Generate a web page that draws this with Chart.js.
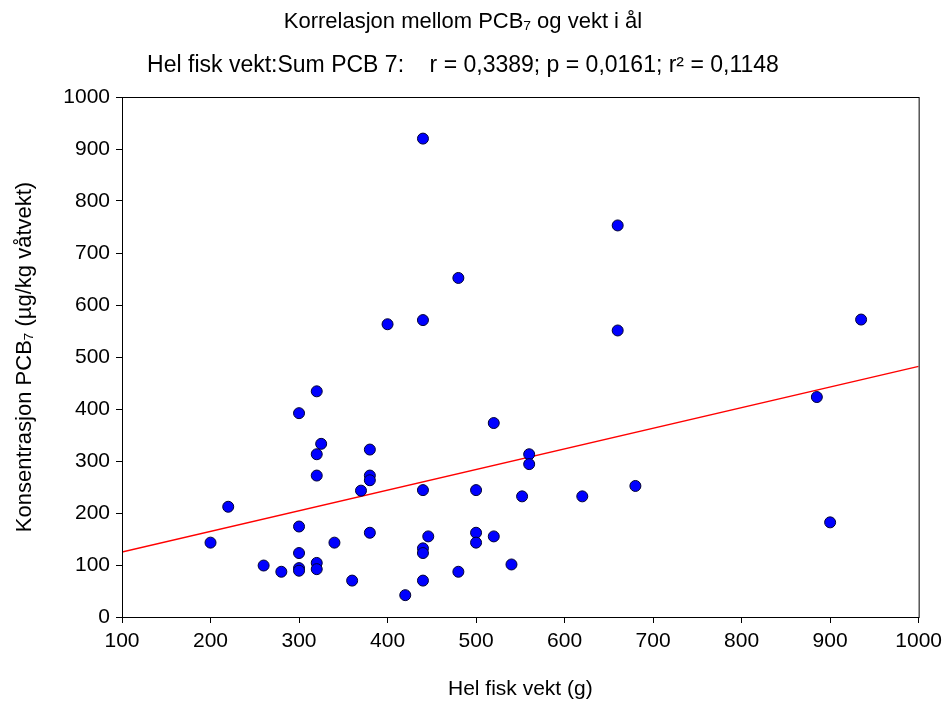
<!DOCTYPE html>
<html>
<head>
<meta charset="utf-8">
<script src="https://cdn.jsdelivr.net/npm/chart.js@4"></script>
<style>
  html, body { margin: 0; padding: 0; background: #fff; }
  #wrap { width: 948px; height: 702px; }
</style>
</head>
<body>
<div id="wrap"><canvas id="chart" width="948" height="702"></canvas></div>
<script>
// fish weight (g) and PCB7 concentration
const weight = [200, 220, 260, 280, 300, 300, 300, 300, 300, 320, 320, 325, 320, 320, 320, 340, 360, 370, 380, 380,
                380, 380, 400, 440, 440, 440, 440, 440, 440, 446, 420, 480, 480, 500, 500, 500, 520, 520, 540, 552,
                560, 560, 620, 660, 660, 680, 885, 900, 935];
const pcb = [143, 212, 99, 87, 392, 174, 123, 94, 89, 434, 313, 333, 272, 104, 92, 143, 70, 243, 322, 272,
             263, 162, 563, 920, 571, 244, 132, 123, 70, 155, 42, 652, 87, 244, 162, 143, 373, 155, 101, 232,
             313, 294, 232, 753, 551, 252, 423, 182, 572];

// regression line end points
const fitX = [100, 1000];
const fitY = [125, 482];

const FONT = "'Liberation Sans', Arial, sans-serif";

const points = weight.map((w, i) => ({ x: w, y: pcb[i] }));
const fit = fitX.map((x, i) => ({ x: x, y: fitY[i] }));

// box round the plot area
const frame = {
    id: 'frame',
    afterDraw(chart) {
        const a = chart.chartArea;
        const ctx = chart.ctx;
        ctx.save();
        ctx.strokeStyle = '#000';
        ctx.lineWidth = 1;
        ctx.strokeRect(a.left + 0.5, a.top + 0.5, a.right - a.left, a.bottom - a.top);
        ctx.restore();
    }
};

new Chart(document.getElementById('chart').getContext('2d'), {
    type: 'scatter',
    data: {
        datasets: [{
            label: 'fit',
            data: fit,
            type: 'line',
            showLine: true,
            borderColor: '#ff0000',
            borderWidth: 1.5,
            pointRadius: 0,
            fill: false,
            order: 2
        }, {
            label: 'Sum PCB 7',
            data: points,
            backgroundColor: '#0000ff',
            borderColor: '#000033',
            borderWidth: 1,
            pointRadius: 5.5,
            order: 1
        }]
    },
    options: {
        responsive: false,
        animation: false,
        layout: { padding: { left: 0, right: 22, top: 0, bottom: 0 } },
        plugins: {
            legend: { display: false },
            tooltip: { enabled: false },
            title: {
                display: true,
                text: 'Korrelasjon mellom PCB₇ og vekt i ål',
                color: '#000',
                font: { family: FONT, size: 22, weight: 'normal' },
                padding: { top: 9, bottom: 0 }
            },
            subtitle: {
                display: true,
                text: 'Hel fisk vekt:Sum PCB 7:    r = 0,3389; p = 0,0161; r² = 0,1148',
                color: '#000',
                font: { family: FONT, size: 23, weight: 'normal' },
                padding: { top: 16, bottom: 18 }
            }
        },
        scales: {
            x: {
                type: 'linear',
                min: 100,
                max: 1000,
                ticks: {
                    stepSize: 100,
                    color: '#000',
                    font: { family: FONT, size: 21 },
                    padding: 6,
                    maxRotation: 0,
                    callback: v => String(v)
                },
                grid: { drawOnChartArea: false, drawTicks: true, tickLength: 6, color: '#000' },
                border: { display: true, color: '#000' },
                title: {
                    display: true,
                    text: 'Hel fisk vekt (g)',
                    color: '#000',
                    font: { family: FONT, size: 21 },
                    padding: { top: 12, bottom: 0 }
                },
                afterFit(s) { s.height = 85; }
            },
            y: {
                min: 0,
                max: 1000,
                ticks: {
                    stepSize: 100,
                    color: '#000',
                    font: { family: FONT, size: 21 },
                    padding: 6,
                    callback: v => String(v)
                },
                grid: { drawOnChartArea: false, drawTicks: true, tickLength: 6, color: '#000' },
                border: { display: true, color: '#000' },
                title: {
                    display: true,
                    text: 'Konsentrasjon PCB₇ (µg/kg våtvekt)',
                    color: '#000',
                    font: { family: FONT, size: 22 },
                    padding: { top: 12, bottom: 0 }
                },
                afterFit(s) { s.width = 122; }
            }
        }
    },
    plugins: [frame]
});
</script>
</body>
</html>
